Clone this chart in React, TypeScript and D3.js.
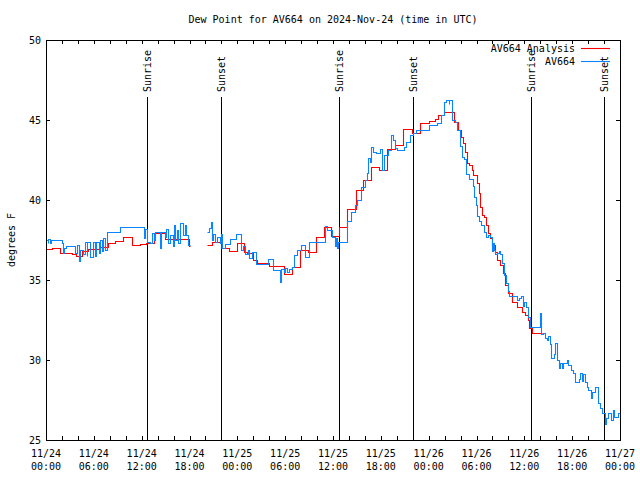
import React from 'react';
import * as d3 from 'd3';

const WIDTH = 640;
const HEIGHT = 480;
const PLOT = { left: 46, right: 620, top: 40, bottom: 440 };

const chartTitle = 'Dew Point for AV664 on 2024-Nov-24 (time in UTC)';
const yAxisLabel = 'degrees F';
const seriesNames = ['AV664 Analysis', 'AV664'];
const seriesColors = ['#ff0000', '#0a84ff'];
const yDomain = [25, 50];
const yTicks = [25, 30, 35, 40, 45, 50];
const startUtc = Date.UTC(2024, 10, 24, 0, 0);
const endUtc = Date.UTC(2024, 10, 27, 0, 0);

// sun events, hours after 2024-11-24 00:00 UTC
const sunLabels = ['Sunrise', 'Sunset', 'Sunrise', 'Sunset', 'Sunrise', 'Sunset'];
const sunHours = [12.72, 21.97, 36.8, 46.08, 60.86, 70.05];

// analysis (hourly-ish steps): [hour, degF], null = gap
const analysisSeries: [number, number | null][] = [
  [0, 36.92], [0.8, 37.0], [1.7, 36.67], [3.2, 36.6], [3.8, 36.5], [4.5, 36.83],
  [5.3, 36.96], [6.8, 37.08], [7.8, 37.29], [8.7, 37.42], [9.7, 37.67], [10.8, 37.19],
  [11.8, 37.25], [12.6, 37.33], [13.6, 37.92], [14.9, 37.54], [17.9, 37.1], [18.1, 37.1],
  [18.2, null],
  [20.25, 37.19], [20.8, 37.4], [22.0, 36.98], [22.9, 36.81], [23.9, 37.29], [24.8, 36.77],
  [25.2, 36.7], [26.0, 36.25], [26.5, 36.08], [28.0, 35.88], [29.8, 35.38], [30.8, 35.8],
  [31.9, 36.88], [32.9, 36.77], [33.9, 37.67], [34.9, 38.33], [35.8, 37.75], [36.8, 38.31],
  [37.8, 39.42], [38.9, 40.63], [39.8, 41.25], [40.8, 42.04], [41.8, 41.875], [42.8, 43.17],
  [43.8, 43.44], [44.8, 44.42], [45.9, 44.21], [46.9, 44.83], [48.0, 44.94], [48.8, 45.04],
  [49.2, 45.31], [49.9, 45.48], [51.2, 44.9], [51.7, 44.375], [52.1, 43.96], [52.3, 43.54],
  [52.6, 43.02], [52.8, 42.33], [53.1, 42.19], [53.4, 41.875], [53.6, 41.56], [54.0, 41.04],
  [54.3, 40.42], [54.5, 39.58], [54.7, 39.06], [55.0, 38.96], [55.2, 38.44], [55.4, 37.92],
  [55.7, 37.6], [56.0, 37.19], [56.3, 36.77], [56.6, 36.25], [57.0, 35.94], [57.3, 35.42],
  [57.6, 34.69], [58.0, 34.17], [58.5, 33.65], [59.1, 33.33], [59.7, 33.02], [60.1, 32.81],
  [60.4, 32.5], [60.6, 31.98], [60.9, 31.7], [62.2, 31.7],
];

// station observations: [hour, degF], null = gap
const observedSeries: [number, number | null][] = [
  [0, 37.5], [0.2, 37.3], [0.3, 37.55], [0.5, 37.3], [0.6, 37.5], [2.0, 37.3], [2.15, 36.7],
  [2.25, 37.0], [2.5, 37.15], [3.6, 36.67], [3.9, 37.2], [4.2, 36.2], [4.3, 36.9], [4.6, 36.6],
  [4.9, 37.4], [5.1, 36.5], [5.2, 37.4], [5.5, 36.46], [5.9, 37.4], [6.2, 36.5], [6.3, 37.4],
  [6.6, 36.7], [6.8, 37.5], [7.0, 36.8], [7.2, 37.6], [7.4, 36.9], [7.6, 37.98], [8.1, 38.02],
  [9.3, 38.29], [12.3, 37.6], [12.4, 38.2], [12.67, 37.4], [13.0, 37.3], [13.3, 37.92],
  [13.5, 37.5], [13.7, 38.0], [14.3, 37.0], [14.4, 38.0], [14.9, 37.7], [15.1, 38.2],
  [15.3, 37.3], [15.5, 37.8], [15.9, 37.1], [16.0, 38.44], [16.2, 37.5], [16.4, 38.1],
  [16.6, 37.3], [16.8, 38.54], [17.2, 37.8], [17.4, 38.44], [17.6, 37.8], [17.8, 37.2],
  [18.1, 37.2], [18.2, null],
  [20.2, 37.98], [20.5, 38.23], [20.7, 38.6], [20.85, 37.5], [21.0, 37.9], [21.2, 37.4],
  [21.5, 37.7], [21.8, 37.3], [21.9, 37.9], [22.1, 36.98], [22.4, 37.25], [23.1, 37.54],
  [23.8, 37.85], [24.4, 36.88], [24.7, 37.1], [25.0, 36.6], [25.3, 36.9], [25.5, 36.35],
  [25.8, 36.73], [26.4, 36.0], [27.9, 36.31], [28.5, 35.63], [29.3, 35.63], [29.4, 34.9],
  [29.5, 35.7], [29.8, 35.5], [30.0, 35.75], [30.2, 35.5], [30.5, 35.7], [30.8, 35.8],
  [31.1, 36.56], [31.5, 36.88], [32.0, 37.19], [32.5, 36.46], [33.05, 37.35], [35.0, 38.375],
  [35.2, 38.1], [35.9, 37.7], [36.3, 37.1], [36.4, 37.6], [36.5, 37.0], [36.6, 37.4],
  [37.8, 38.7], [38.2, 39.27], [38.7, 39.7], [39.0, 40.0], [39.5, 40.83], [40.0, 41.25],
  [40.3, 41.67], [40.4, 42.6], [40.6, 42.4], [40.8, 43.3], [41.0, 43.0], [41.4, 42.96],
  [41.9, 43.2], [42.2, 41.875], [42.4, 42.8], [42.9, 43.1], [43.25, 44.06], [43.5, 43.75],
  [43.8, 43.23], [44.0, 43.1], [44.85, 43.33], [45.2, 43.6], [45.7, 44.06], [46.0, 44.2],
  [46.4, 44.375], [48.0, 44.69], [49.0, 44.79], [49.5, 45.3], [49.9, 46.15], [50.2, 46.25],
  [50.5, 46.0], [50.6, 46.25], [50.9, 45.0], [51.3, 44.9], [51.5, 44.375], [51.9, 43.4],
  [52.2, 42.7], [52.4, 42.54], [52.7, 41.6], [53.0, 41.29], [53.5, 40.9], [53.7, 40.2],
  [53.9, 39.7], [54.1, 39.0], [54.3, 38.7], [54.6, 38.44], [55.0, 38.02], [55.2, 37.7],
  [55.4, 37.8], [55.65, 37.7], [55.9, 37.3], [56.0, 36.8], [56.1, 37.3], [56.2, 36.9],
  [56.35, 36.6], [56.6, 36.7], [56.8, 36.8], [57.0, 36.6], [57.2, 36.04], [57.5, 35.3],
  [57.7, 34.79], [57.9, 34.3], [58.1, 34.02], [59.1, 33.75], [59.3, 33.9], [59.6, 34.0],
  [59.8, 33.4], [60.0, 33.6], [60.2, 33.3], [60.5, 32.7], [60.7, 32.08], [62.0, 32.96],
  [62.15, 31.6], [62.4, 31.7], [62.6, 31.4], [62.8, 31.25], [63.0, 31.5], [63.2, 31.0],
  [63.4, 30.1], [63.7, 30.4], [63.9, 31.04], [64.1, 30.0], [64.3, 29.5], [64.5, 29.8],
  [64.7, 29.5], [64.9, 29.8], [65.3, 30.0], [65.5, 29.7], [65.9, 29.4], [66.1, 29.2],
  [66.4, 28.6], [66.8, 28.8], [67.0, 29.2], [67.2, 28.7], [67.4, 29.1], [67.6, 28.6],
  [67.8, 28.3], [68.0, 28.1], [68.3, 27.6], [68.5, 28.0], [68.9, 28.3], [69.3, 27.3],
  [69.5, 27.0], [69.8, 26.7], [70.1, 26.0], [70.3, 26.4], [70.5, 26.67], [70.9, 26.25],
  [71.1, 26.9], [71.3, 26.46], [71.7, 26.67], [72.0, 26.67],
];

const FONT = "'DejaVu Sans Mono', 'Liberation Mono', monospace";

const hourToDate = (h: number) => new Date(startUtc + h * 3600 * 1000);
const px = (v: number) => Math.round(v) + 0.5;

export default function App() {
  const x = d3.scaleUtc().domain([new Date(startUtc), new Date(endUtc)]).range([PLOT.left, PLOT.right]);
  const y = d3.scaleLinear().domain(yDomain).range([PLOT.bottom, PLOT.top]);

  const line = d3
    .line<[number, number | null]>()
    .defined((d) => d[1] !== null)
    .x((d) => px(x(hourToDate(d[0]))))
    .y((d) => px(y(d[1] as number)))
    .curve(d3.curveStepAfter);

  const majorTicks = d3.utcHour.every(6)!.range(new Date(startUtc), new Date(endUtc + 1));
  const minorTicks = d3.utcHour.every(2)!.range(new Date(startUtc), new Date(endUtc + 1));
  const fmtDate = d3.utcFormat('%m/%d');
  const fmtTime = d3.utcFormat('%H:%M');

  return (
    <svg width={WIDTH} height={HEIGHT} style={{ display: 'block', position: 'absolute', left: 0, top: 0, background: '#fff' }}>
      <rect x={0} y={0} width={WIDTH} height={HEIGHT} fill="#fff" />
      <text x={(PLOT.left + PLOT.right) / 2} y={23} textAnchor="middle" fontFamily={FONT} fontSize={10} fill="#000">
        {chartTitle}
      </text>

      {/* y ticks and labels */}
      {yTicks.map((t) => (
        <g key={'y' + t}>
          <line x1={PLOT.left} x2={PLOT.left + 4} y1={px(y(t))} y2={px(y(t))} stroke="#000" />
          <line x1={PLOT.right - 4} x2={PLOT.right} y1={px(y(t))} y2={px(y(t))} stroke="#000" />
          <text x={41} y={y(t) + 4} textAnchor="end" fontFamily={FONT} fontSize={10} fill="#000">
            {t}
          </text>
        </g>
      ))}

      {/* x ticks */}
      {minorTicks.map((d, i) => (
        <g key={'xm' + i}>
          <line x1={px(x(d))} x2={px(x(d))} y1={PLOT.bottom} y2={PLOT.bottom - 4} stroke="#000" />
          <line x1={px(x(d))} x2={px(x(d))} y1={PLOT.top} y2={PLOT.top + 4} stroke="#000" />
        </g>
      ))}
      {majorTicks.map((d, i) => (
        <g key={'xl' + i}>
          <text x={x(d)} y={457} textAnchor="middle" fontFamily={FONT} fontSize={10} fill="#000">
            {fmtDate(d)}
          </text>
          <text x={x(d)} y={470} textAnchor="middle" fontFamily={FONT} fontSize={10} fill="#000">
            {fmtTime(d)}
          </text>
        </g>
      ))}

      <text
        transform={`translate(15,${(PLOT.top + PLOT.bottom) / 2}) rotate(-90)`}
        textAnchor="middle"
        fontFamily={FONT}
        fontSize={10}
        fill="#000"
      >
        {yAxisLabel}
      </text>

      {/* sunrise / sunset markers */}
      {sunHours.map((h, i) => {
        const sx = x(hourToDate(h));
        return (
          <g key={'sun' + i}>
            <line x1={px(sx)} x2={px(sx)} y1={97} y2={PLOT.bottom} stroke="#000" />
            <text
              transform={`translate(${px(sx) + 3.5},92) rotate(-90)`}
              textAnchor="start"
              fontFamily={FONT}
              fontSize={10}
              fill="#000"
            >
              {sunLabels[i]}
            </text>
          </g>
        );
      })}

      {/* series */}
      <path d={line(analysisSeries) || ''} fill="none" stroke={seriesColors[0]} strokeWidth={1.1} />
      <path d={line(observedSeries) || ''} fill="none" stroke={seriesColors[1]} strokeWidth={1.1} />

      {/* legend */}
      {seriesNames.map((name, i) => (
        <g key={'lg' + i}>
          <text x={575} y={52 + i * 13} textAnchor="end" fontFamily={FONT} fontSize={10} fill="#000">
            {name}
          </text>
          <line x1={581} x2={610} y1={48.5 + i * 13} y2={48.5 + i * 13} stroke={seriesColors[i]} strokeWidth={1.1} />
        </g>
      ))}

      {/* frame */}
      <rect
        x={PLOT.left + 0.5}
        y={PLOT.top + 0.5}
        width={PLOT.right - PLOT.left}
        height={PLOT.bottom - PLOT.top}
        fill="none"
        stroke="#000"
      />
    </svg>
  );
}
